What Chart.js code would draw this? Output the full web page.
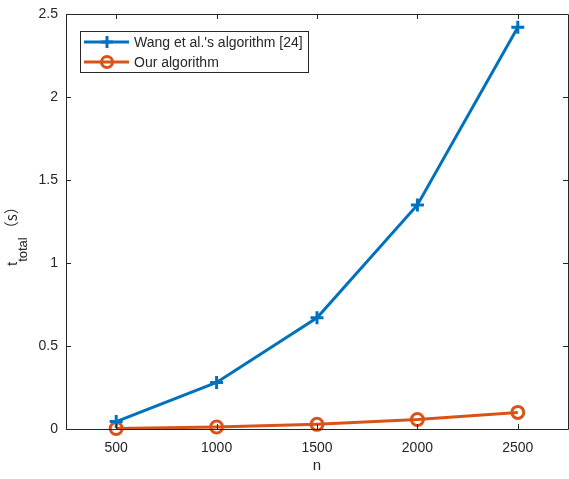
<!DOCTYPE html>
<html><head><meta charset="utf-8">
<script src="https://cdn.jsdelivr.net/npm/chart.js@4"></script>
<style>html,body{margin:0;padding:0;background:#fff}#wrap{width:569px;height:479px}</style>
</head><body><div id="wrap"><canvas id="c" width="569" height="479"></canvas></div>
<script>
const nValues = [500, 1000, 1500, 2000, 2500];
const wangTimes = [0.045, 0.28, 0.67, 1.35, 2.42];
const ourTimes = [0.003, 0.012, 0.028, 0.057, 0.10];
const xTicks = [500, 1000, 1500, 2000, 2500];
const yTicks = [0, 0.5, 1, 1.5, 2, 2.5];
const seriesNames = ["Wang et al.'s algorithm [24]", "Our algorithm"];

const FONT = "Arial, 'Liberation Sans', sans-serif";
const BLUE = '#0072BD', ORANGE = '#D95319', AX = '#262626';

const boxPlugin = {
  id: 'box',
  afterDraw(chart) {
    const {ctx, chartArea: a, scales} = chart;
    ctx.save();
    ctx.strokeStyle = AX; ctx.lineWidth = 1;
    ctx.beginPath();
    ctx.rect(Math.round(a.left) + 0.5, Math.round(a.top) + 0.5, Math.round(a.right - a.left), Math.round(a.bottom - a.top));
    ctx.stroke();
    ctx.beginPath();
    xTicks.forEach(v => {
      const x = Math.round(scales.x.getPixelForValue(v)) + 0.5;
      ctx.moveTo(x, a.bottom); ctx.lineTo(x, a.bottom - 5);
      ctx.moveTo(x, a.top); ctx.lineTo(x, a.top + 5);
    });
    yTicks.forEach(v => {
      const y = Math.round(scales.y.getPixelForValue(v)) + 0.5;
      ctx.moveTo(a.left, y); ctx.lineTo(a.left + 5, y);
      ctx.moveTo(a.right, y); ctx.lineTo(a.right - 5, y);
    });
    ctx.stroke();
    // y title: t_total（s）
    ctx.fillStyle = AX;
    ctx.translate(17, 266);
    ctx.rotate(-Math.PI / 2);
    ctx.textBaseline = 'alphabetic';
    let x0 = 0;
    ctx.font = '15px ' + FONT; ctx.fillText('t', x0, 0); x0 += ctx.measureText('t').width;
    ctx.font = '13px ' + FONT; ctx.fillText('total', x0, 10); x0 += ctx.measureText('total').width + 1;
    ctx.font = "15px 'Noto Sans CJK SC', " + FONT; ctx.fillText('（s）', x0, 0);
    ctx.restore();
    // legend
    ctx.save();
    const lx = 80, ly = 31, lw = 228, lh = 41;
    ctx.fillStyle = '#fff';
    ctx.fillRect(lx, ly, lw, lh);
    ctx.strokeStyle = AX; ctx.lineWidth = 1;
    ctx.strokeRect(lx + 0.5, ly + 0.5, lw, lh);
    const rows = [{c: BLUE, m: 'cross', y: 42}, {c: ORANGE, m: 'circle', y: 62}];
    rows.forEach((r, i) => {
      ctx.strokeStyle = r.c; ctx.lineWidth = 3;
      ctx.beginPath(); ctx.moveTo(84, r.y); ctx.lineTo(129, r.y); ctx.stroke();
      ctx.beginPath();
      if (r.m === 'cross') { ctx.moveTo(101, r.y); ctx.lineTo(113, r.y); ctx.moveTo(107, r.y - 6); ctx.lineTo(107, r.y + 6); }
      else { ctx.arc(107, r.y, 5.5, 0, Math.PI * 2); }
      ctx.stroke();
      ctx.fillStyle = AX; ctx.font = '14px ' + FONT; ctx.textBaseline = 'middle';
      ctx.fillText(seriesNames[i], 134, r.y + 1);
    });
    ctx.restore();
  }
};

new Chart(document.getElementById('c'), {
  type: 'line',
  data: {
    datasets: [
      { label: seriesNames[0], data: nValues.map((n, i) => ({x: n, y: wangTimes[i]})),
        borderColor: BLUE, backgroundColor: 'transparent', borderWidth: 3,
        pointStyle: 'cross', pointRadius: 6.5, pointBorderWidth: 3, pointBorderColor: BLUE, tension: 0, clip: false },
      { label: seriesNames[1], data: nValues.map((n, i) => ({x: n, y: ourTimes[i]})),
        borderColor: ORANGE, backgroundColor: 'transparent', borderWidth: 3,
        pointStyle: 'circle', pointRadius: 6, pointBorderWidth: 3, pointBorderColor: ORANGE, pointBackgroundColor: 'transparent', tension: 0, clip: false }
    ]
  },
  options: {
    responsive: false, animation: false, devicePixelRatio: 1,
    layout: { autoPadding: false, padding: { top: 14, right: 1, left: 0, bottom: 0 } },
    plugins: { legend: { display: false }, tooltip: { enabled: false } },
    scales: {
      x: { type: 'linear', min: 250, max: 2750,
        afterBuildTicks: s => { s.ticks = xTicks.map(v => ({value: v})); },
        afterFit: s => { s.height = 50; s.paddingLeft = 0; s.paddingRight = 0; },
        grid: { display: false, drawTicks: false }, border: { display: false },
        ticks: { color: AX, font: { size: 14, family: FONT }, padding: 11, maxRotation: 0, callback: v => String(v) },
        title: { display: true, text: 'n', color: AX, font: { size: 15, family: FONT }, padding: { top: 7 } } },
      y: { type: 'linear', min: 0, max: 2.5,
        afterBuildTicks: s => { s.ticks = yTicks.map(v => ({value: v})); },
        afterFit: s => { s.width = 66; s.paddingTop = 0; s.paddingBottom = 0; },
        grid: { display: false, drawTicks: false }, border: { display: false },
        ticks: { color: AX, font: { size: 14, family: FONT }, padding: 8, callback: v => String(v) } }
    }
  },
  plugins: [boxPlugin]
});
</script></body></html>
